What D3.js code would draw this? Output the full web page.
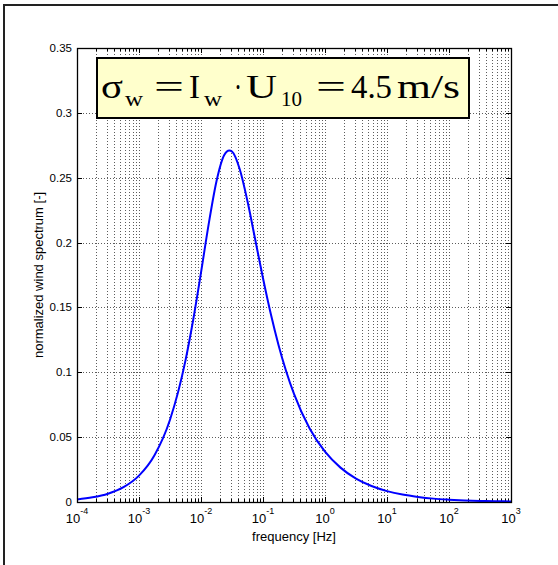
<!DOCTYPE html>
<html>
<head>
<meta charset="utf-8">
<script src="https://cdn.jsdelivr.net/npm/d3@7/dist/d3.min.js"></script>
<style>
  body { margin: 0; background: #fff; }
  text { font-family: "Liberation Sans", Arial, sans-serif; fill: #000; }
</style>
</head>
<body>
<div id="chart"></div>
<script>
// frequency [Hz] and normalized spectrum
const freq = [1e-4, 1.778e-4, 3.162e-4, 5.623e-4, 1e-3, 1.778e-3, 3.162e-3, 5.623e-3,
    7.499e-3, 0.01, 0.01334, 0.01778, 0.02371, 0.0286, 0.03162, 0.04217, 0.05623, 0.07499,
    0.1, 0.1334, 0.1778, 0.3162, 0.5623, 1, 1.778, 3.162, 5.623, 10, 17.78, 31.62,
    56.23, 100, 177.8, 316.2, 562.3, 1000];
const spectrum = [0.0020, 0.0036, 0.0064, 0.0114, 0.0203, 0.0360, 0.0634, 0.1092,
    0.1407, 0.1769, 0.2146, 0.2473, 0.2675, 0.2710, 0.2702, 0.2565, 0.2318, 0.2022,
    0.1725, 0.1451, 0.1211, 0.0833, 0.0569, 0.0388, 0.0265, 0.0180, 0.0123, 0.0084,
    0.0057, 0.0039, 0.0026, 0.0018, 0.0012, 0.0008, 0.0006, 0.0004];

const xExponents = [-4, -3, -2, -1, 0, 1, 2, 3];
const yTicks = [0, 0.05, 0.1, 0.15, 0.2, 0.25, 0.3, 0.35];
const yTickLabels = ["0", "0.05", "0.1", "0.15", "0.2", "0.25", "0.3", "0.35"];
const xTitle = "frequency [Hz]";
const yTitle = "normalized wind spectrum [-]";

let svg = d3.select("#chart")
    .append("svg")
    .attr("width", 558)
    .attr("height", 565);

// outer figure frame
svg.append("rect")
    .attr("x", 4).attr("y", 5)
    .attr("width", 600).attr("height", 600)
    .attr("fill", "#fff")
    .attr("stroke", "#222")
    .attr("stroke-width", 2);

let pLeft = 77, pRight = 511, pTop = 48, pBottom = 502;

let x = d3.scaleLog().domain([1e-4, 1e3]).range([pLeft, pRight]);
let y = d3.scaleLinear().domain([0, 0.35]).range([pBottom, pTop]);

let majors = xExponents.map(e => Math.pow(10, e));
let minors = [];
xExponents.slice(0, -1).forEach(e => {
    for (let k = 2; k <= 9; k++) minors.push(k * Math.pow(10, e));
});

// grid
let grid = svg.append("g")
    .attr("stroke", "#000")
    .attr("stroke-width", 0.8)
    .attr("stroke-dasharray", "1,2")
    .attr("opacity", 0.8);

grid.selectAll(".vx")
    .data(majors.concat(minors))
    .enter().append("line")
    .attr("x1", d => Math.round(x(d)) + 0.5)
    .attr("x2", d => Math.round(x(d)) + 0.5)
    .attr("y1", pTop)
    .attr("y2", pBottom);

grid.selectAll(".hy")
    .data(yTicks)
    .enter().append("line")
    .attr("x1", pLeft)
    .attr("x2", pRight)
    .attr("y1", d => Math.round(y(d)) + 0.5)
    .attr("y2", d => Math.round(y(d)) + 0.5);

// ticks (inside, on all four sides)
let ticks = svg.append("g")
    .attr("stroke", "#000")
    .attr("stroke-width", 1);

function xTick(list, len) {
    list.forEach(d => {
        let px = Math.round(x(d)) + 0.5;
        ticks.append("line").attr("x1", px).attr("x2", px).attr("y1", pBottom).attr("y2", pBottom - len);
        ticks.append("line").attr("x1", px).attr("x2", px).attr("y1", pTop).attr("y2", pTop + len);
    });
}
xTick(majors, 5);
xTick(minors, 3);

yTicks.forEach(d => {
    let py = Math.round(y(d)) + 0.5;
    ticks.append("line").attr("x1", pLeft).attr("x2", pLeft + 5).attr("y1", py).attr("y2", py);
    ticks.append("line").attr("x1", pRight).attr("x2", pRight - 5).attr("y1", py).attr("y2", py);
});

// curve
let line = d3.line()
    .x((d, i) => x(freq[i]))
    .y(d => y(d))
    .curve(d3.curveMonotoneX);

svg.append("path")
    .datum(spectrum)
    .attr("fill", "none")
    .attr("stroke", "#0000ff")
    .attr("stroke-width", 2)
    .attr("d", line);

// axes box
svg.append("rect")
    .attr("x", pLeft + 0.5).attr("y", pTop + 0.5)
    .attr("width", pRight - pLeft).attr("height", pBottom - pTop)
    .attr("fill", "none")
    .attr("stroke", "#000")
    .attr("stroke-width", 1.3);

// tick labels
svg.selectAll(".ylab")
    .data(yTicks)
    .enter().append("text")
    .attr("x", pLeft - 5)
    .attr("y", d => y(d) + 4)
    .attr("text-anchor", "end")
    .attr("font-size", 11.5)
    .text((d, i) => yTickLabels[i]);

let xl = svg.selectAll(".xlab")
    .data(xExponents)
    .enter().append("text")
    .attr("x", d => x(Math.pow(10, d)))
    .attr("y", pBottom + 21)
    .attr("text-anchor", "middle")
    .attr("font-size", 13);
xl.append("tspan").text("10");
xl.append("tspan")
    .attr("dy", -9)
    .attr("font-size", 9)
    .text(d => d);

// axis titles
svg.append("text")
    .attr("x", (pLeft + pRight) / 2)
    .attr("y", 541)
    .attr("text-anchor", "middle")
    .attr("font-size", 13)
    .text(xTitle);

svg.append("text")
    .attr("transform", "translate(43," + (pTop + pBottom) / 2 + ") rotate(-90)")
    .attr("text-anchor", "middle")
    .attr("font-size", 13)
    .text(yTitle);

// annotation box
svg.append("rect")
    .attr("x", 97).attr("y", 58)
    .attr("width", 372).attr("height", 60)
    .attr("fill", "#ffffcc")
    .attr("stroke", "#000")
    .attr("stroke-width", 2);

let formula = [
    {t: "\u03c3", x: 101, w: 22, sub: false},
    {t: "w", x: 125, w: 18, sub: true},
    {t: "=", x: 154, w: 30, sub: false},
    {t: "I", x: 189, w: 11, sub: false},
    {t: "w", x: 204, w: 18, sub: true},
    {t: "\u00b7", x: 234, w: 8, sub: false},
    {t: "U", x: 246, w: 31, sub: false},
    {t: "10", x: 281, w: 21, sub: true},
    {t: "=", x: 316, w: 30, sub: false},
    {t: "4.5", x: 351, w: 41, sub: false},
    {t: "m/s", x: 397, w: 63, sub: false}
];

svg.append("g")
    .selectAll("text")
    .data(formula)
    .enter().append("text")
    .attr("x", d => d.x)
    .attr("y", d => d.sub ? 106 : 98)
    .attr("font-size", d => d.sub ? 21 : 33)
    .attr("textLength", d => d.w)
    .attr("lengthAdjust", "spacingAndGlyphs")
    .style("font-family", "'Liberation Serif', 'Times New Roman', serif")
    .text(d => d.t);
</script>
</body>
</html>
